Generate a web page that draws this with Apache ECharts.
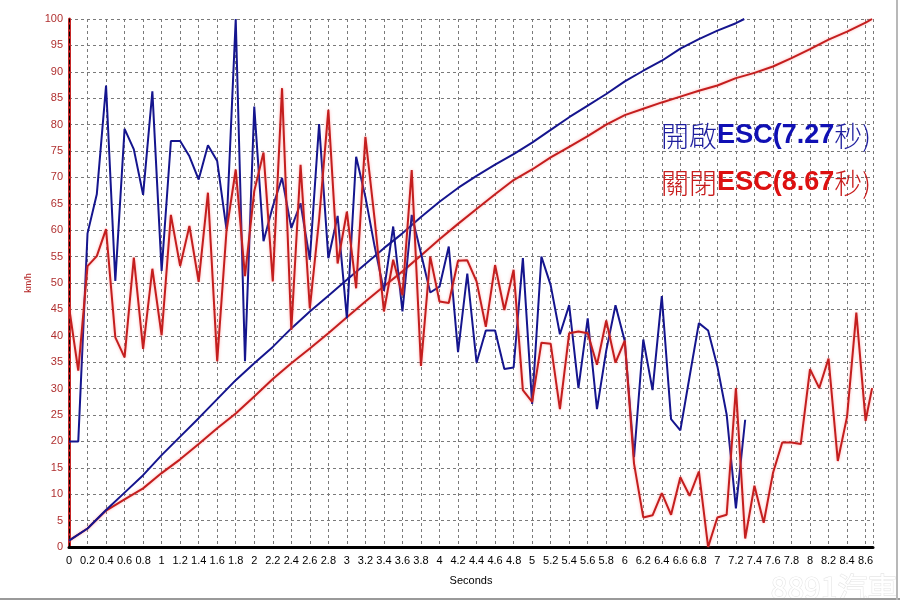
<!DOCTYPE html>
<html>
<head>
<meta charset="utf-8">
<script src="https://cdn.jsdelivr.net/npm/echarts@6/dist/echarts.min.js"></script>
<style>
html,body{margin:0;padding:0;background:#fff;}
#main{width:900px;height:600px;}
</style>
</head>
<body>
<div id="main"></div>
<script>
// ---- Data ----
// ESC ON (blue): time-to-100 = 7.27 s
const blueNoiseT = [0,0.1,0.2,0.3,0.4,0.5,0.6,0.7,0.8,0.9,1.0,1.1,1.2,1.3,1.4,1.5,1.6,1.7,1.8,1.9,2.0,2.1,2.2,2.3,2.4,2.5,2.6,2.7,2.8,2.9,3.0,3.1,3.2,3.3,3.4,3.5,3.6,3.7,3.8,3.9,4.0,4.1,4.2,4.3,4.4,4.5,4.6,4.7,4.8,4.9,5.0,5.1,5.2,5.3,5.4,5.5,5.6,5.7,5.8,5.9,6.0,6.1,6.2,6.3,6.4,6.5,6.6,6.7,6.8,6.9,7.0,7.1,7.2,7.3];
const blueNoiseV = [20,20,59.4,66.8,87.4,50.4,79.2,75.3,66.7,86.3,52.3,76.9,76.9,74.0,69.6,76.1,73.1,60.2,100,35.2,83.4,57.9,64.5,69.9,60.4,65.1,54.4,80.1,54.7,62.7,43.3,73.9,66.3,56.9,48.5,60.7,44.6,62.9,55.6,48.2,49.3,56.9,36.9,51.8,34.9,41.0,41.0,33.7,34.0,54.7,27.1,55.0,49.6,40.3,45.8,30.1,43.3,26.1,37.2,45.8,39.0,17.0,39.3,29.7,47.5,24.2,22.1,32.3,42.4,41.0,34.2,25.1,7.3,24.1];

const blueSpeedT = [0,0.2,0.4,0.6,0.8,1.0,1.2,1.4,1.6,1.8,2.0,2.2,2.4,2.6,2.8,3.0,3.2,3.4,3.6,3.8,4.0,4.2,4.4,4.6,4.8,5.0,5.2,5.4,5.6,5.8,6.0,6.2,6.4,6.6,6.8,7.0,7.2,7.29];
const blueSpeedV = [1.2,3.5,7.0,10.3,13.6,17.4,20.9,24.4,28.0,31.6,34.8,37.9,41.4,44.6,47.6,50.6,53.6,56.6,59.4,62.5,65.4,68.0,70.3,72.4,74.4,76.6,79.0,81.4,83.6,85.8,88.2,90.2,92.1,94.4,96.2,97.8,99.2,100];

// ESC OFF (red): time-to-100 = 8.67 s
const redNoiseT = [0,0.1,0.2,0.3,0.4,0.5,0.6,0.7,0.8,0.9,1.0,1.1,1.2,1.3,1.4,1.5,1.6,1.7,1.8,1.9,2.0,2.1,2.2,2.3,2.4,2.5,2.6,2.7,2.8,2.9,3.0,3.1,3.2,3.3,3.4,3.5,3.6,3.7,3.8,3.9,4.0,4.1,4.2,4.3,4.4,4.5,4.6,4.7,4.8,4.9,5.0,5.1,5.2,5.3,5.4,5.5,5.6,5.7,5.8,5.9,6.0,6.1,6.2,6.3,6.4,6.5,6.6,6.7,6.8,6.9,7.0,7.1,7.2,7.3,7.4,7.5,7.6,7.7,7.8,7.9,8.0,8.1,8.2,8.3,8.4,8.5,8.6,8.67];
const redNoiseV = [45.5,33.4,53.2,55.1,60.2,39.7,35.9,54.8,37.5,52.7,40.1,62.9,53.2,60.8,50.2,67.1,35.2,59.8,71.5,51.3,67.4,74.7,50.3,86.9,41.1,72.4,45.2,62.0,82.8,53.7,63.5,49.0,77.7,62.0,44.6,54.4,47.7,71.4,34.3,55.0,46.5,46.2,54.2,54.3,50.3,41.7,53.4,44.9,52.5,29.7,27.5,38.7,38.5,26.1,40.5,40.8,40.5,34.5,42.9,34.9,39.1,15.8,5.6,6.0,10.2,6.1,13.2,9.7,14.3,0,5.6,6.1,30.1,1.6,11.6,4.6,14.0,19.8,19.8,19.5,33.7,30.1,35.7,16.3,24.7,44.4,23.9,30.1];

const redSpeedT = [0,0.2,0.4,0.6,0.8,1.0,1.2,1.4,1.6,1.8,2.0,2.2,2.4,2.6,2.8,3.0,3.2,3.4,3.6,3.8,4.0,4.2,4.4,4.6,4.8,5.0,5.2,5.4,5.6,5.8,6.0,6.2,6.4,6.6,6.8,7.0,7.2,7.4,7.6,7.8,8.0,8.2,8.4,8.6,8.67];
const redSpeedV = [1.2,3.5,6.9,9.0,11.1,14.0,16.6,19.5,22.5,25.3,28.5,31.8,34.8,37.6,40.5,43.5,46.5,49.4,52.2,55.2,58.3,61.2,64.0,66.8,69.5,71.5,73.8,75.8,77.8,80.0,81.8,83.0,84.2,85.3,86.4,87.4,88.8,89.8,91.0,92.6,94.3,96.1,97.6,99.3,100];

const xName = 'Seconds';
const yName = 'km/h';
const labelOn = ['開啟', 'ESC(7.27', '秒)'];
const labelOff = ['關閉', 'ESC(8.67', '秒)'];

function pairs(t, v){ return t.map((x,i)=>[x, v[i]]); }

const BLUE = '#15158e';
const RED = '#c41e1e';
const redGlow = {shadowColor:'rgba(255,110,110,0.55)', shadowBlur:3};

const chart = echarts.init(document.getElementById('main'), null, {renderer:'canvas'});
chart.setOption({
  animation:false,
  backgroundColor:'#fff',
  grid:{left:69, right:27, top:19, bottom:53, containLabel:false},
  xAxis:[{
    type:'value', min:0, max:8.68, interval:0.2,
    name:xName, nameLocation:'middle', nameGap:28,
    nameTextStyle:{color:'#000', fontSize:11, fontFamily:'Liberation Sans, Arial'},
    axisLine:{show:true, onZero:false, lineStyle:{color:'#000', width:3}},
    axisTick:{show:false},
    axisLabel:{color:'#000', fontSize:11, margin:8, fontFamily:'Liberation Sans, Arial', showMaxLabel:false, hideOverlap:false},
    splitLine:{show:true, lineStyle:{color:'#7a7a7a', type:[3,3], width:1}}
  },{
    type:'value', min:0, max:8.68, position:'top',
    axisLine:{show:true, lineStyle:{color:'#000', width:1}},
    axisTick:{show:false}, axisLabel:{show:false}, splitLine:{show:false}
  }],
  yAxis:[{
    type:'value', min:0, max:100, interval:5,
    name:yName, nameLocation:'middle', nameGap:36, nameRotate:90,
    nameTextStyle:{color:'#b22222', fontSize:9, fontFamily:'Liberation Sans, Arial'},
    axisLine:{show:true, onZero:false, lineStyle:{color:'#c62828', width:3}},
    axisTick:{show:false},
    axisLabel:{color:'#b03030', fontSize:11, margin:6, fontFamily:'Liberation Sans, Arial'},
    splitLine:{show:true, lineStyle:{color:'#7a7a7a', type:[3,3], width:1}}
  },{
    type:'value', min:0, max:100, position:'right',
    axisLine:{show:true, lineStyle:{color:'#000', width:1, type:[4,3]}},
    axisTick:{show:false}, axisLabel:{show:false}, splitLine:{show:false}
  }],
  series:[
    {name:'ESC OFF speed', type:'line', data:pairs(redSpeedT, redSpeedV), showSymbol:false, lineStyle:Object.assign({color:RED, width:2}, redGlow), z:2},
    {name:'ESC ON speed', type:'line', data:pairs(blueSpeedT, blueSpeedV), showSymbol:false, lineStyle:{color:BLUE, width:2}, z:3},
    {name:'ESC ON', type:'line', data:pairs(blueNoiseT, blueNoiseV), showSymbol:false, lineStyle:{color:BLUE, width:2}, z:3},
    {name:'ESC OFF', type:'line', data:pairs(redNoiseT, redNoiseV), showSymbol:false, lineStyle:Object.assign({color:RED, width:2}, redGlow), z:4}
  ],
  graphic:[
    {type:'text', right:29, top:122, z:10, style:{
      rich:{
        c:{fontSize:28, fontFamily:'Noto Sans CJK TC', fontWeight:300, fill:'#1e1e9e'},
        e:{fontSize:27, fontWeight:'bold', fontFamily:'Liberation Sans, Arial', fill:'#1010b4'}
      },
      text:'{c|'+labelOn[0]+'}{e|'+labelOn[1]+'}{c|'+labelOn[2]+'}'
    }},
    {type:'text', right:29, top:169, z:10, style:{
      rich:{
        c:{fontSize:28, fontFamily:'Noto Sans CJK TC', fontWeight:300, fill:'#c81c1c'},
        e:{fontSize:27, fontWeight:'bold', fontFamily:'Liberation Sans, Arial', fill:'#dd1010'}
      },
      text:'{c|'+labelOff[0]+'}{e|'+labelOff[1]+'}{c|'+labelOff[2]+'}'
    }},
    {type:'text', right:2, top:572, z:10, style:{
      text:'8891汽車', fontSize:30, fontFamily:'Noto Sans CJK TC', fill:'#ffffff', stroke:'#e6e6e6', lineWidth:1.2
    }},
    {type:'line', shape:{x1:0, y1:599, x2:900, y2:599}, style:{stroke:'#9a9a9a', lineWidth:2}, z:11},
    {type:'line', shape:{x1:897, y1:0, x2:897, y2:600}, style:{stroke:'#b8b8b8', lineWidth:2}, z:11}
  ]
});
</script>
</body>
</html>
